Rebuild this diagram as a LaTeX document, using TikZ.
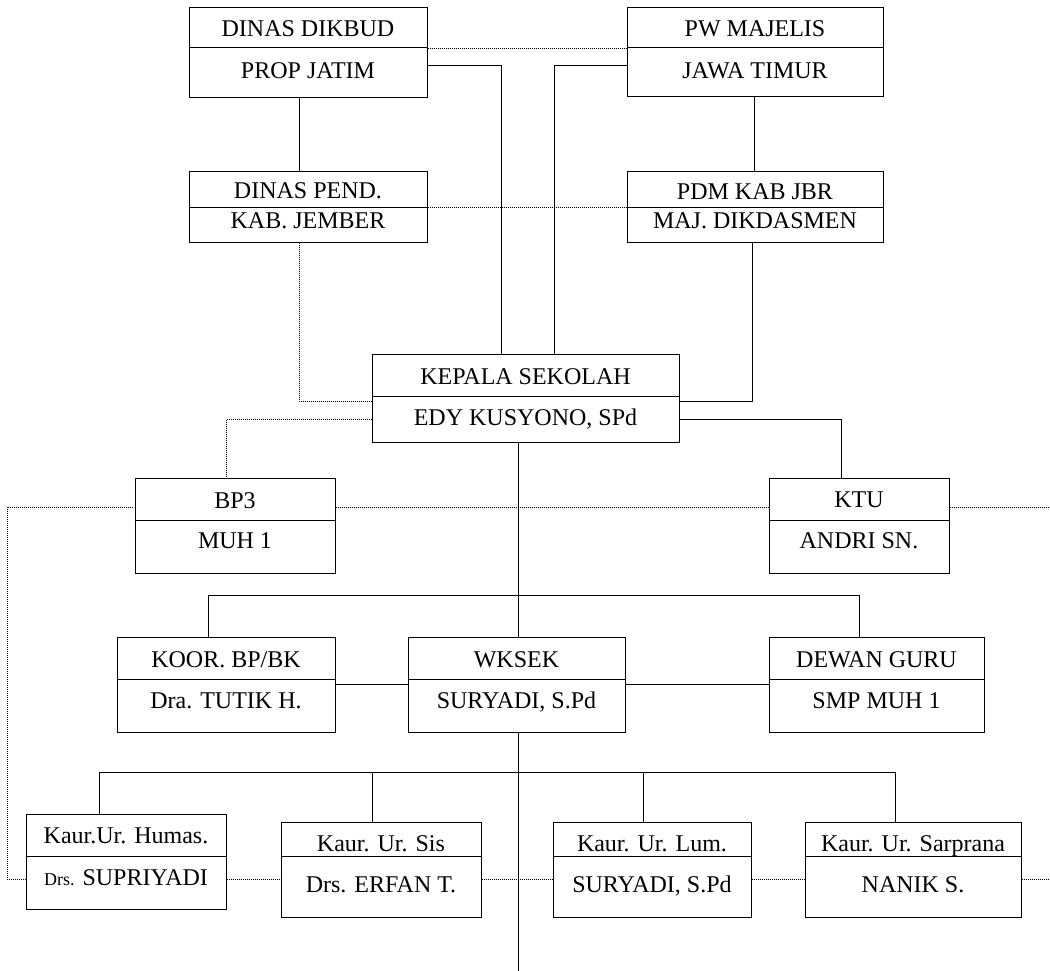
\documentclass[tikz,border=0pt]{standalone}
\usepackage{fontspec}
\setmainfont{Liberation Serif}
\usetikzlibrary{calc}
\tikzset{
  box/.style={draw=black, line width=1pt, rectangle, inner sep=0pt},
  boxline/.style={draw=black, line width=1pt},
  txt/.style={anchor=base, inner sep=0pt},
  conn/.style={draw=black, line width=1pt},
  dots/.style={draw=black, line width=0.8pt, dash pattern=on 0.8pt off 1.2pt},
}
\newcommand\obox[6]{%
  \node[box, minimum width={#4-#2}, minimum height={#5-#3}] (#1) at ({(#2+#4)/2},{(#3+#5)/2}) {};
  \draw[boxline] (#1.west |- 0,#6) -- (#1.east |- 0,#6);
}
\begin{document}
\begin{tikzpicture}[x=1pt, y=-1pt, font=\fontsize{24}{29}\selectfont]
\useasboundingbox (0,0) rectangle (1050,971);
\fill[white] (0,0) rectangle (1050,971);

% boxes
\obox{dikbud}{189}{8}{427}{98}{48}
\node[txt] (dikbud-a) at (308,37) {DINAS DIKBUD};
\node[txt] (dikbud-b) at (308,79) {PROP JATIM};

\obox{pw}{627}{8}{883}{97}{48}
\node[txt] (pw-a) at (755,37) {PW MAJELIS};
\node[txt] (pw-b) at (755,79) {JAWA TIMUR};

\obox{pend}{189}{172}{427}{242}{207}
\node[txt] (pend-a) at (308,199) {DINAS PEND.};
\node[txt] (pend-b) at (308,228) {KAB. JEMBER};

\obox{pdm}{627}{172}{883}{242}{207}
\node[txt] (pdm-a) at (755,200) {PDM KAB JBR};
\node[txt] (pdm-b) at (755,228) {MAJ. DIKDASMEN};

\obox{kepala}{372}{354}{679}{442}{396}
\node[txt] (kepala-a) at (525.5,384) {KEPALA SEKOLAH};
\node[txt] (kepala-b) at (525.5,425) {EDY KUSYONO, SPd};

\obox{bp3}{135}{478}{335}{573}{520}
\node[txt] (bp3-a) at (235,508) {BP3};
\node[txt] (bp3-b) at (235,548) {MUH 1};

\obox{ktu}{769}{478}{949}{573}{520}
\node[txt] (ktu-a) at (859,507) {KTU};
\node[txt] (ktu-b) at (859,548) {ANDRI SN.};

\obox{koor}{117}{637}{335}{732}{679}
\node[txt] (koor-a) at (226,667) {KOOR. BP/BK};
\node[txt] (koor-b) at (226,708) {Dra. TUTIK H.};

\obox{wksek}{408}{637}{625}{732}{679}
\node[txt] (wksek-a) at (516.5,667) {WKSEK};
\node[txt] (wksek-b) at (516.5,708) {SURYADI, S.Pd};

\obox{dewan}{769}{637}{984}{732}{679}
\node[txt] (dewan-a) at (876.5,667) {DEWAN GURU};
\node[txt] (dewan-b) at (876.5,708) {SMP MUH 1};

\obox{humas}{26}{814}{226}{909}{856}
\node[txt] (humas-a) at (126,843) {Kaur.Ur. Humas.};
\node[txt] (humas-b) at (126,885) {{\fontsize{18}{22}\selectfont Drs.} SUPRIYADI};

\obox{sis}{281}{822}{481}{917}{856}
\node[txt] (sis-a) at (381,851) {Kaur. Ur. Sis};
\node[txt] (sis-b) at (381,892) {Drs. ERFAN T.};

\obox{lum}{553}{822}{751}{917}{856}
\node[txt] (lum-a) at (652,851) {Kaur. Ur. Lum.};
\node[txt] (lum-b) at (652,892) {SURYADI, S.Pd};

\obox{sarp}{805}{822}{1021}{917}{856}
\node[txt] (sarp-a) at (913,851) {Kaur. Ur. Sarprana};
\node[txt] (sarp-b) at (913,892) {NANIK S.};

% free ends and bends
\coordinate (lt) at (7,507);
\coordinate (rt) at (1050,507);
\coordinate (lb) at (7,879);
\coordinate (rb) at (1050,879);
\coordinate (bot) at (518,971);
\coordinate (barA) at (859,595);
\coordinate (barB) at (895,772);

% solid connectors
\draw[conn] (dikbud.south -| 299,0) -- (pend.north -| 299,0);
\draw[conn] (pw.south -| 754,0) -- (pdm.north -| 754,0);
\draw[conn] (dikbud.east |- 0,66) -| (kepala.north -| 501,0);
\draw[conn] (pw.west |- 0,66) -| (kepala.north -| 554,0);
\draw[conn] (pdm.south -| 752,0) |- (kepala.east |- 0,401);
\draw[conn] (kepala.east |- 0,419) -| (ktu.north -| 841,0);
\draw[conn] (kepala.south -| 518,0) -- (wksek.north -| 518,0);
\draw[conn] (koor.north -| 208,0) |- (barA) -- (dewan.north -| barA);
\draw[conn] (koor.east |- 0,684) -- (wksek.west |- 0,684);
\draw[conn] (wksek.east |- 0,684) -- (dewan.west |- 0,684);
\draw[conn] (wksek.south -| 518,0) -- (bot);
\draw[conn] (humas.north -| 99,0) |- (barB) -- (sarp.north -| barB);
\draw[conn] (sis.north -| 372,0) -- (372,772);
\draw[conn] (lum.north -| 643,0) -- (643,772);

% dotted connectors
\draw[dots] (dikbud.east |- 0,48) -- (pw.west |- 0,48);
\draw[dots] (pend.east |- 0,207) -- (pdm.west |- 0,207);
\draw[dots] (pend.south -| 299,0) |- (kepala.west |- 0,401);
\draw[dots] (kepala.west |- 0,419) -| (bp3.north -| 226,0);
\draw[dots] (humas.west |- lb) -- (lb) -- (lt) -- (bp3.west |- lt);
\draw[dots] (bp3.east |- lt) -- (ktu.west |- lt);
\draw[dots] (ktu.east |- rt) -- (rt);
\draw[dots] (humas.east |- lb) -- (sis.west |- lb);
\draw[dots] (sis.east |- lb) -- (lum.west |- lb);
\draw[dots] (lum.east |- lb) -- (sarp.west |- lb);
\draw[dots] (sarp.east |- rb) -- (rb);
\end{tikzpicture}
\end{document}
